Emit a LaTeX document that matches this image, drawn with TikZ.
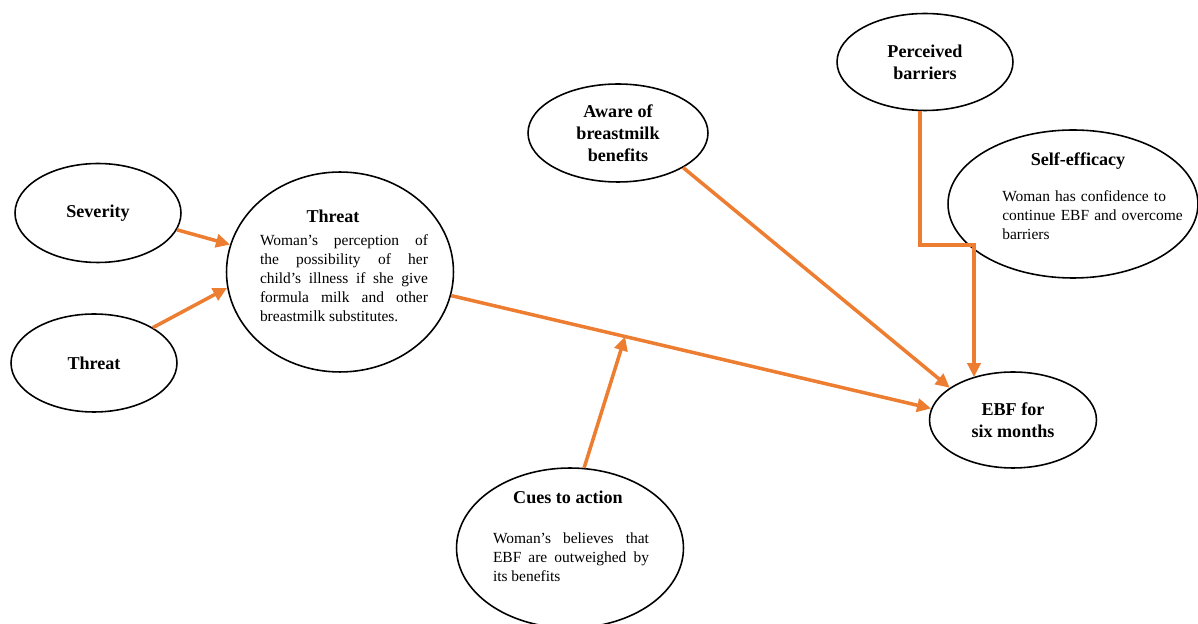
\documentclass[tikz,border=0pt]{standalone}
\usepackage{fontspec}
\setmainfont{Liberation Serif}
\definecolor{HBMorange}{RGB}{237,125,49}
\usetikzlibrary{shapes.geometric,arrows.meta,positioning,calc}
\tikzset{
	>={Triangle[length=8pt,width=7.5pt]},
	factor/.style={
		ellipse,
		draw=black, line width=0.9pt,
		inner sep=0pt,
		align=center,
		font=\fontsize{10.3}{12.4}\selectfont\bfseries},
	heading/.style={inner sep=0pt, font=\fontsize{10.3}{12.4}\selectfont\bfseries},
	desc/.style={inner sep=0pt, font=\fontsize{8.8}{10.9}\selectfont},
	link/.style={draw=HBMorange, line width=2pt, ->},
}

\begin{document}
\begin{tikzpicture}
[x=0.02cm, y=-0.02cm]
\useasboundingbox (0,0) rectangle (1198,624);

\node[factor, minimum width=3.32cm, minimum height=1.98cm] (sev) at (98,213) {Severity};
\node[factor, minimum width=3.32cm, minimum height=1.96cm] (thrsmall) at (94,363) {Threat};
\node[factor, minimum width=4.54cm, minimum height=4cm] (thr) at (340,272) {};
\node[heading] (thr-title) at (333,216) {Threat};
\node[desc, text width=3.36cm, align=justify] (thr-body) at (344,278)
	{Woman's perception of\linebreak the possibility of her\linebreak child's illness if she give\linebreak formula milk and other\linebreak breastmilk substitutes.};

\node[factor, minimum width=3.6cm, minimum height=1.96cm] (aware) at (618,133) {Aware of\\breastmilk\\benefits};
\node[factor, minimum width=3.52cm, minimum height=1.94cm] (perc) at (925,62) {Perceived\\barriers};

\node[factor, minimum width=5cm, minimum height=2.96cm] (self) at (1073,204) {};
\node[heading] (self-title) at (1078,161) {Self-efficacy};
\node[desc, anchor=west, text width=3.7cm, align=left] (self-body) at (1002,215)
	{Woman has confidence to\\continue EBF and overcome\\barriers};

\node[factor, minimum width=4.54cm, minimum height=3.2cm] (cues) at (570,548) {};
\node[heading] (cues-title) at (568,497) {Cues to action};
\node[desc, text width=3.12cm, align=justify] (cues-body) at (571,557)
	{Woman's believes that\linebreak EBF are outweighed by\linebreak its benefits};

\node[factor, minimum width=3.34cm, minimum height=1.92cm] (ebf) at (1013,420) {EBF for\\six months};

% arrows
\draw[link] (sev.-12) -- (thr.166);
\draw[link] (thrsmall.31) -- (thr.188);
\draw[link] (thr.-12) -- coordinate[pos=0.3625] (cuemeet) (ebf.172);
\draw[link] (cues.80) -- (cuemeet);
\draw[link] (aware.-28) -- (ebf.153);
\coordinate (elbow) at (974,245);
\draw[link] (perc.264) |- (elbow) -- (elbow |- ebf.133);
\end{tikzpicture}
\end{document}
